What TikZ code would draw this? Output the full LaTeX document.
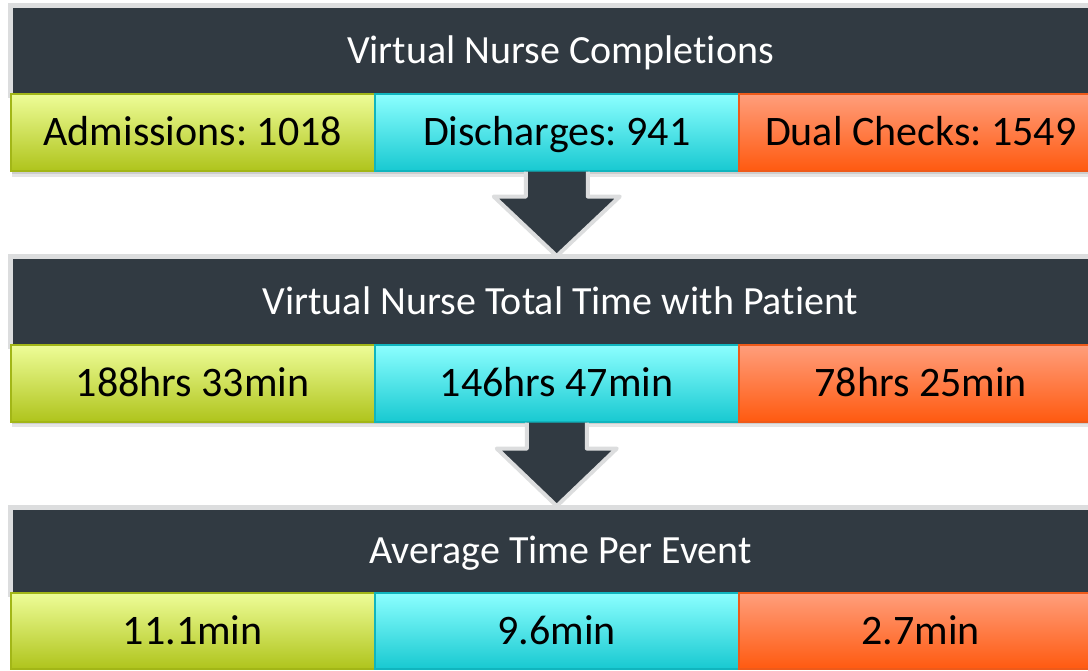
\documentclass[tikz,border=0pt]{standalone}
\usepackage{fontspec}
\setmainfont[RawFeature={-liga;-clig;-calt;-dlig}]{Carlito}
\frenchspacing
\usetikzlibrary{calc}
\definecolor{panel}{HTML}{313A42}
\definecolor{rim}{HTML}{DCDDDE}
\definecolor{gtop}{HTML}{EEFD98}
\definecolor{gbot}{HTML}{AFC41C}
\definecolor{gline}{HTML}{A2B617}
\definecolor{ctop}{HTML}{8CFFFF}
\definecolor{cbot}{HTML}{18C9D1}
\definecolor{cline}{HTML}{10B5BE}
\definecolor{otop}{HTML}{FF9E7C}
\definecolor{obot}{HTML}{FF5A10}
\definecolor{oline}{HTML}{EE5A1A}
\begin{document}
\begin{tikzpicture}[x=1pt,y=-1pt,
  header/.style={draw=rim, line width=5pt, fill=panel, text=white, anchor=north west,
    minimum width=1100pt, inner sep=0pt, font=\fontsize{40}{48}\selectfont,
    text height=25.8pt, text depth=0pt},
  cell/.style={anchor=north west, minimum width=364pt, minimum height=77pt, inner sep=0pt,
    line width=1.5pt, font=\fontsize{42}{50}\selectfont, text=black,
    text height=27pt, text depth=0pt},
  gcell/.style={cell, draw=gline, top color=gtop, bottom color=gbot},
  ccell/.style={cell, draw=cline, top color=ctop, bottom color=cbot},
  ocell/.style={cell, draw=oline, top color=otop, bottom color=obot},
  shadowbar/.style={fill=black, opacity=0.10},
  blockarrow/.style={fill=panel, draw=rim, line width=4pt, line join=round}]
\useasboundingbox (0,0) rectangle (1088,670);
\fill[white] (0,0) rectangle (1088,670);

% ---- row 1
\node[header, minimum height=89.5pt] (h1) at (8,3) {Virtual Nurse Completions};
\fill[shadowbar] (12,171) rectangle (1100,177);
\fill[shadowbar] (12,171) rectangle (1100,174);
\node[gcell] (b11) at (10,93) {Admissions: 1018};
\node[ccell] (b12) at (374,93) {Discharges: 941};
\node[ocell] (b13) at (738,93) {Dual Checks: 1549};

% ---- row 2
\node[header, minimum height=89.5pt] (h2) at (8,254) {Virtual Nurse Total Time with Patient};
\draw[blockarrow] ($(b12.south)+(-31,0)$) -- ($(b12.south)+(-31,25)$) -- ($(b12.south)+(-63,25)$)
  -- ($(b12.south |- h2.north)+(0,2)$) -- ($(b12.south)+(63,25)$) -- ($(b12.south)+(31,25)$)
  -- ($(b12.south)+(31,0)$);
\fill[shadowbar] (12,421) rectangle (1100,427);
\fill[shadowbar] (12,421) rectangle (1100,424);
\node[gcell] (b21) at (10,344) {188hrs 33min};
\node[ccell] (b22) at (374,344) {146hrs 47min};
\node[ocell] (b23) at (738,344) {78hrs 25min};

% ---- row 3
\node[header, minimum height=86.5pt] (h3) at (8,505) {Average Time Per Event};
\draw[blockarrow] ($(b22.south)+(-30,0)$) -- ($(b22.south)+(-30,26)$) -- ($(b22.south)+(-60,26)$)
  -- ($(b22.south |- h3.north)+(0,1)$) -- ($(b22.south)+(60,26)$) -- ($(b22.south)+(30,26)$)
  -- ($(b22.south)+(30,0)$);
\node[gcell, minimum height=76pt] (b31) at (10,592) {11.1min};
\node[ccell, minimum height=76pt] (b32) at (374,592) {9.6min};
\node[ocell, minimum height=76pt] (b33) at (738,592) {2.7min};
\end{tikzpicture}
\end{document}
